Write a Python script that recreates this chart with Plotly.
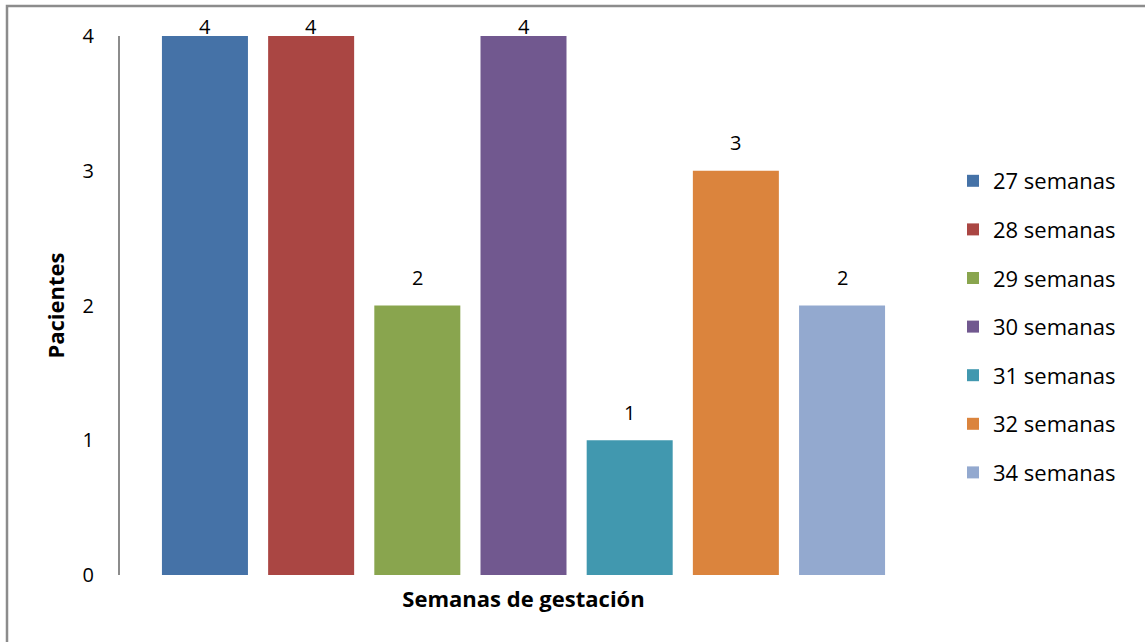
import plotly.graph_objects as go

categories = ["27 semanas", "28 semanas", "29 semanas", "30 semanas", "31 semanas", "32 semanas", "34 semanas"]
pacientes = [4, 4, 2, 4, 1, 3, 2]
colors = ["#4572A7", "#AA4643", "#89A54E", "#71588F", "#4198AF", "#DB843D", "#93A9CF"]
y_ticks = [0, 1, 2, 3, 4]

W, H = 1145, 642
L, R, T, B = 120, 218, 36, 67

FONT = "Open Sans"

fig = go.Figure()
for i, (c, v, col) in enumerate(zip(categories, pacientes, colors)):
    fig.add_trace(go.Bar(
        x=[c], y=[v], name=c, marker=dict(color=col, line=dict(width=0)),
        legendgroup=c, showlegend=True,
    ))

ymax = max(y_ticks)
for c, v in zip(categories, pacientes):
    fig.add_annotation(
        x=c, y=v, text=str(v), showarrow=False, yanchor="middle",
        yshift=10 if v >= ymax else 28,
        font=dict(family=FONT, size=20, color="#000000"),
    )

pw = W - L - R
ph = H - T - B
fig.add_shape(
    type="rect", xref="paper", yref="paper",
    x0=(7 - L) / pw, x1=(1160 - L) / pw,
    y0=-(660 - T - ph) / ph, y1=1 + (T - 6) / ph,
    line=dict(color="#8c8c8c", width=2.5), fillcolor="rgba(0,0,0,0)", layer="below",
)

fig.update_layout(
    width=W, height=H,
    margin=dict(l=L, r=R, t=T, b=B),
    paper_bgcolor="white", plot_bgcolor="white",
    barmode="overlay", bargap=0.19,
    font=dict(family=FONT, size=20, color="#000000"),
    showlegend=True,
    legend=dict(
        xref="container", yref="container", x=953 / W, y=1 - 160 / H,
        xanchor="left", yanchor="top", maxheight=600,
        font=dict(family=FONT, size=22, color="#000000"),
        tracegroupgap=17, itemclick=False, bgcolor="rgba(0,0,0,0)",
    ),
    xaxis=dict(
        showticklabels=False, showline=False, showgrid=False, zeroline=False,
        ticks="", range=[-0.8, 6.8],
        title=dict(text="<b>Semanas de gestación</b>", font=dict(family=FONT, size=22), standoff=16),
    ),
    yaxis=dict(
        range=[0, 4], tickvals=y_ticks, showgrid=False, zeroline=False,
        showline=True, linecolor="#8c8c8c", linewidth=2,
        ticks="", ticklabelstandoff=20,
        tickfont=dict(family=FONT, size=20),
        title=dict(text="<b>Pacientes</b>", font=dict(family=FONT, size=22), standoff=12),
    ),
)

fig.write_html("out.html")
